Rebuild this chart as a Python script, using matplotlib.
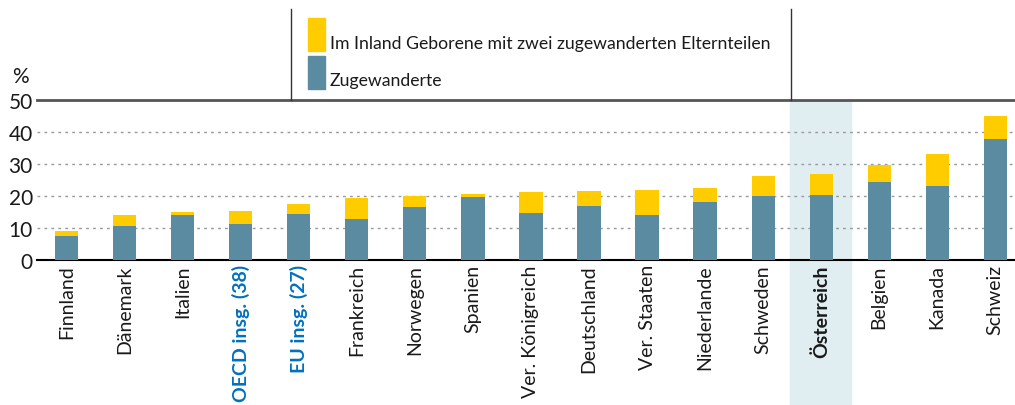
import matplotlib.pyplot as plt
from matplotlib.patches import Rectangle

# data
laender = ["Finnland", "Dänemark", "Italien", "OECD insg. (38)", "EU insg. (27)",
           "Frankreich", "Norwegen", "Spanien", "Ver. Königreich", "Deutschland",
           "Ver. Staaten", "Niederlande", "Schweden", "Österreich", "Belgien",
           "Kanada", "Schweiz"]
zugewanderte = [7.4, 10.5, 14.0, 11.2, 14.3, 12.7, 16.5, 19.6, 14.6, 16.8,
                14.0, 18.0, 19.9, 20.2, 24.3, 23.3, 37.7]
gesamt = [9.0, 14.0, 14.9, 15.2, 17.4, 19.3, 19.9, 20.5, 21.2, 21.5,
          21.8, 22.4, 26.2, 26.8, 29.6, 33.3, 44.9]
zweite_gen = [g - z for g, z in zip(gesamt, zugewanderte)]

BLAU = "#5b8ba0"
GELB = "#ffcc00"
HELL = "#e0eef2"
TXT = "#1a1a1a"

plt.rcParams['font.family'] = ['Lato', 'DejaVu Sans']

fig = plt.figure(figsize=(10.15, 4.06), dpi=100)
ax = fig.add_axes([0.0365, 0.357, 0.9635, 0.394])

x = list(range(len(laender)))
ax.bar(x, zugewanderte, width=0.4, color=BLAU, zorder=3)
ax.bar(x, zweite_gen, width=0.4, bottom=zugewanderte, color=GELB, zorder=3)

# highlight Oesterreich
i_at = laender.index("Österreich")
ax.add_patch(Rectangle((i_at - 0.535, -60), 1.05, 110, color=HELL, zorder=0, clip_on=False))

ax.set_xlim(-0.51, 16.34)
ax.set_ylim(0, 50)
ax.set_yticks([0, 10, 20, 30, 40, 50])
ax.tick_params(axis='y', length=0, labelsize=15, pad=3, colors=TXT)
ax.tick_params(axis='x', length=0, pad=3)
ax.set_xticks(x)
ax.set_xticklabels(laender, rotation=90, fontsize=14, va='top', ha='center', color=TXT)
for lab in ax.get_xticklabels():
    t = lab.get_text()
    if "insg." in t:
        lab.set_color("#0070c0")
        lab.set_fontweight("bold")
    if t == "Österreich":
        lab.set_fontweight("bold")

for y in [10, 20, 30, 40]:
    ax.axhline(y, color="#999999", lw=1, ls=(0, (2, 3)), zorder=1)
ax.axhline(50, color="#555555", lw=2, zorder=4, clip_on=False)
for s in ["left", "right", "top"]:
    ax.spines[s].set_visible(False)
ax.spines["bottom"].set_color("black")
ax.spines["bottom"].set_linewidth(1.5)

# legend box lines
fig.add_artist(plt.Line2D([291 / 1015, 291 / 1015], [1 - 10 / 406, 1 - 101 / 406], color="#333333", lw=1))
fig.add_artist(plt.Line2D([791 / 1015, 791 / 1015], [1 - 10 / 406, 1 - 101 / 406], color="#333333", lw=1))

fig.add_artist(Rectangle((308 / 1015, 1 - 52 / 406), 17 / 1015, 33 / 406, color=GELB))
fig.add_artist(Rectangle((308 / 1015, 1 - 90 / 406), 17 / 1015, 33 / 406, color=BLAU))
fig.text(330 / 1015, 1 - 44 / 406, "Im Inland Geborene mit zwei zugewanderten Elternteilen",
         fontsize=12.7, va='center', ha='left', color=TXT)
fig.text(330 / 1015, 1 - 81 / 406, "Zugewanderte", fontsize=12.7, va='center', ha='left', color=TXT)
fig.text(12 / 1015, 1 - 77 / 406, "%", fontsize=15, va='center', ha='left', color=TXT)

fig.savefig("out.png", dpi=100)
